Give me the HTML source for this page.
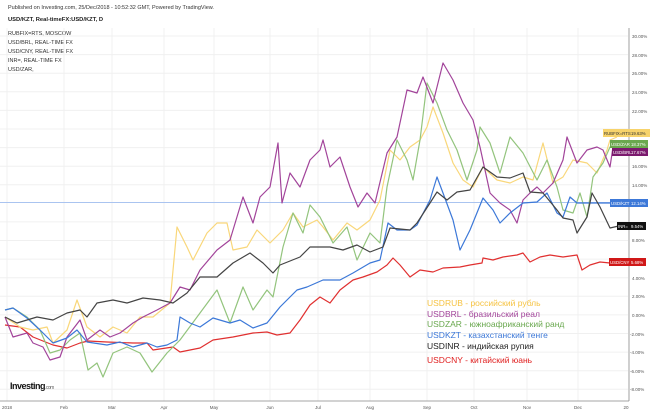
<!DOCTYPE html>
<html><head><meta charset="utf-8"><style>
body{margin:0;background:#fff;}
svg{display:block;font-family:"Liberation Sans","Noto Sans CJK SC",sans-serif;}
</style></head><body>
<svg width="654" height="416" viewBox="0 0 654 416" xmlns="http://www.w3.org/2000/svg">
<rect width="654" height="416" fill="#fff"/>
<text x="8" y="9" font-size="5.5" fill="#333">Published on Investing.com, 25/Dec/2018 - 10:52:32 GMT, Powered by TradingView.</text>
<text x="8" y="21" font-size="5.8" font-weight="bold" fill="#222">USD/KZT, Real-timeFX:USD/KZT, D</text>
<g font-size="5.5" fill="#333">
<text x="8" y="35">RUBFIX=RTS, MOSCOW</text>
<text x="8" y="44">USD/BRL, REAL-TIME FX</text>
<text x="8" y="53">USD/CNY, REAL-TIME FX</text>
<text x="8" y="62">INR=, REAL-TIME FX</text>
<text x="8" y="71">USD/ZAR,</text>
</g>
<!-- grid -->
<g stroke="#f0f0f0" stroke-width="1">
<line x1="0" x2="628" y1="36" y2="36"/><line x1="0" x2="628" y1="54.6" y2="54.6"/><line x1="0" x2="628" y1="73.2" y2="73.2"/><line x1="0" x2="628" y1="91.8" y2="91.8"/><line x1="0" x2="628" y1="110.4" y2="110.4"/><line x1="0" x2="628" y1="129" y2="129"/><line x1="0" x2="628" y1="147.6" y2="147.6"/><line x1="0" x2="628" y1="166.2" y2="166.2"/><line x1="0" x2="628" y1="184.8" y2="184.8"/><line x1="0" x2="628" y1="221.9" y2="221.9"/><line x1="0" x2="628" y1="240.5" y2="240.5"/><line x1="0" x2="628" y1="259.1" y2="259.1"/><line x1="0" x2="628" y1="277.7" y2="277.7"/><line x1="0" x2="628" y1="296.3" y2="296.3"/><line x1="0" x2="628" y1="314.9" y2="314.9"/><line x1="0" x2="628" y1="333.5" y2="333.5"/><line x1="0" x2="628" y1="352.1" y2="352.1"/><line x1="0" x2="628" y1="370.7" y2="370.7"/><line x1="0" x2="628" y1="389.3" y2="389.3"/>
<line x1="7" x2="7" y1="28" y2="401"/><line x1="64" x2="64" y1="28" y2="401"/><line x1="112" x2="112" y1="28" y2="401"/><line x1="164" x2="164" y1="28" y2="401"/><line x1="214" x2="214" y1="28" y2="401"/><line x1="270" x2="270" y1="28" y2="401"/><line x1="318" x2="318" y1="28" y2="401"/><line x1="370" x2="370" y1="28" y2="401"/><line x1="427" x2="427" y1="28" y2="401"/><line x1="474" x2="474" y1="28" y2="401"/><line x1="527" x2="527" y1="28" y2="401"/><line x1="578" x2="578" y1="28" y2="401"/>
</g>
<line x1="0" x2="628" y1="202.5" y2="202.5" stroke="#aac4f0" stroke-width="1"/>
<line x1="629" x2="629" y1="28" y2="401" stroke="#888" stroke-width="0.8"/>
<line x1="0" x2="629" y1="401" y2="401" stroke="#888" stroke-width="0.8"/>
<g font-size="4.5" fill="#555">
<text x="632" y="38">30.00%</text><text x="632" y="57">28.00%</text><text x="632" y="75">26.00%</text><text x="632" y="94">24.00%</text><text x="632" y="113">22.00%</text><text x="632" y="168">16.00%</text><text x="632" y="187">14.00%</text><text x="632" y="242">8.00%</text><text x="632" y="280">4.00%</text><text x="632" y="298">2.00%</text><text x="632" y="317">0.00%</text><text x="630" y="336">-2.00%</text><text x="630" y="354">-4.00%</text><text x="630" y="373">-6.00%</text><text x="630" y="391">-8.00%</text>
</g>
<g font-size="4.5" fill="#555" text-anchor="middle">
<text x="7" y="409">2018</text><text x="64" y="409">Feb</text><text x="112" y="409">Mar</text><text x="164" y="409">Apr</text><text x="214" y="409">May</text><text x="270" y="409">Jun</text><text x="318" y="409">Jul</text><text x="370" y="409">Aug</text><text x="427" y="409">Sep</text><text x="474" y="409">Oct</text><text x="527" y="409">Nov</text><text x="578" y="409">Dec</text><text x="626" y="409">20</text>
</g>
<g fill="none" stroke-width="1.2" stroke-linejoin="round">
<polyline stroke="#e03030" points="5,325 20,327 33,337 53,345 67,348 80,343 88,341 107,342 133,343 147,343 153,350 173,347 180,352 200,348 213,340 233,337 253,333 267,332 277,335 290,333 300,320 310,305 320,297 330,303 340,290 353,280 363,277 377,272 387,265 393,258 400,265 410,277 420,270 433,272 443,268 460,267 470,265 482,263 483,258 493,260 503,257 517,255 523,253 530,262 540,257 550,255 563,257 577,255 582,270 590,265 600,262 610,263"/>
<polyline stroke="#f9d77a" points="5,317 20,327 33,330 47,327 53,343 67,330 77,300 87,327 100,337 113,327 127,333 140,317 153,317 170,303 177,227 187,247 193,260 207,233 217,223 227,223 233,250 247,247 257,230 270,243 283,230 293,213 303,227 317,220 323,227 333,240 347,223 357,230 370,220 380,200 390,150 400,160 410,147 420,140 427,127 433,107 443,133 453,163 463,180 473,187 483,167 497,180 510,183 523,177 533,180 543,143 553,183 563,177 573,160 587,163 597,173 607,150 610,140 617,137"/>
<polyline stroke="#93c47d" points="5,310 13,308 27,317 40,330 50,353 60,350 70,340 80,333 88,370 97,363 103,377 113,353 127,347 140,353 152,372 167,353 180,340 200,313 217,290 230,323 243,287 253,310 267,290 273,297 283,247 293,213 303,233 310,205 320,217 323,223 333,243 347,227 357,260 370,233 380,243 387,187 397,140 407,160 413,180 420,140 427,83 437,103 447,130 457,150 467,180 477,150 480,127 490,143 500,173 510,137 523,153 537,180 547,160 557,187 563,210 573,213 580,193 587,217 593,177 603,163 610,147 615,143"/>
<polyline stroke="#a2449a" points="5,317 13,337 27,333 33,343 43,347 50,360 60,357 67,337 80,320 87,340 100,330 110,337 120,333 133,323 143,317 157,310 170,303 180,287 190,290 200,270 217,250 230,240 243,197 253,223 260,197 270,187 278,143 282,203 290,173 300,187 310,160 320,150 323,140 330,167 340,157 350,187 358,207 367,193 375,203 387,153 397,137 407,90 417,93 423,77 433,103 443,63 453,80 463,103 473,120 480,147 490,193 500,203 510,210 517,223 523,200 530,193 537,187 543,193 553,183 563,160 567,137 577,163 587,150 597,147 603,150 610,167 613,147"/>
<polyline stroke="#3c78d8" points="5,310 13,308 27,318 40,330 53,343 67,338 77,330 87,342 107,345 120,342 133,347 147,343 157,347 167,345 177,340 180,317 190,323 200,327 213,318 230,323 240,320 253,328 267,323 280,307 297,290 307,287 323,280 340,280 353,273 370,263 380,260 388,223 397,230 410,230 417,225 430,200 437,177 443,193 453,220 460,250 470,230 483,198 493,210 500,223 510,213 523,203 537,202 547,193 557,213 563,217 570,197 577,203 583,203 597,203 610,203"/>
<polyline stroke="#444" points="5,317 17,323 27,320 37,317 53,320 67,313 80,310 87,317 97,303 113,300 127,303 143,298 160,300 173,303 187,293 200,277 217,277 233,263 250,253 263,263 273,273 280,265 300,257 310,247 330,247 343,250 357,245 370,252 383,247 390,228 410,230 417,223 430,203 437,192 447,200 457,192 470,190 483,167 497,177 510,178 523,173 530,192 543,193 557,210 563,218 573,220 577,233 587,217 592,193 600,207 610,228 623,225"/>
</g>
<!-- right labels -->
<g font-size="4.3">
<rect x="603" y="129" width="26" height="8" fill="#f7d36b"/><rect x="629" y="129" width="21" height="8" fill="#f7d36b"/>
<text x="604" y="135" fill="#333">RUBFIX=RTS</text><text x="631" y="135" fill="#333">19.63%</text>
<rect x="610" y="140" width="19" height="8" fill="#6aa84f"/><rect x="629" y="140" width="19" height="8" fill="#6aa84f"/>
<text x="611" y="146" fill="#fff">USD/ZAR</text><text x="631" y="146" fill="#fff">18.37%</text>
<rect x="612" y="148" width="17" height="8" fill="#7b1a6e"/><rect x="629" y="148" width="19" height="8" fill="#7b1a6e"/>
<text x="613" y="154" fill="#fff">USD/BRL</text><text x="631" y="154" fill="#fff">17.67%</text>
<rect x="610" y="199" width="19" height="8" fill="#3c78d8"/><rect x="629" y="199" width="19" height="8" fill="#3c78d8"/>
<text x="611" y="205" fill="#fff">USD/KZT</text><text x="631" y="205" fill="#fff">12.14%</text>
<rect x="617" y="222" width="12" height="8" fill="#111"/><rect x="629" y="222" width="17" height="8" fill="#111"/>
<text x="618" y="228" fill="#fff">INR=</text><text x="631" y="228" fill="#fff">9.54%</text>
<rect x="609" y="258" width="20" height="8" fill="#d01818"/><rect x="629" y="258" width="17" height="8" fill="#d01818"/>
<text x="610" y="264" fill="#fff">USD/CNY</text><text x="631" y="264" fill="#fff">5.68%</text>
</g>
<g font-size="8.5">
<text x="427" y="306" fill="#f6c342">USDRUB - российский рубль</text>
<text x="427" y="317" fill="#a2449a">USDBRL - бразильский реал</text>
<text x="427" y="327" fill="#6aa84f">USDZAR - южноафриканский ранд</text>
<text x="427" y="338" fill="#3c78d8">USDKZT - казахстанский тенге</text>
<text x="427" y="349" fill="#222">USDINR - индийская рупия</text>
<text x="427" y="363" fill="#e02020">USDCNY - китайский юань</text>
</g>
<text x="10" y="389" font-size="9" font-weight="bold" fill="#111" letter-spacing="-0.5">Investing<tspan font-size="5" font-weight="normal" fill="#666">.com</tspan></text>
</svg>
</body></html>
